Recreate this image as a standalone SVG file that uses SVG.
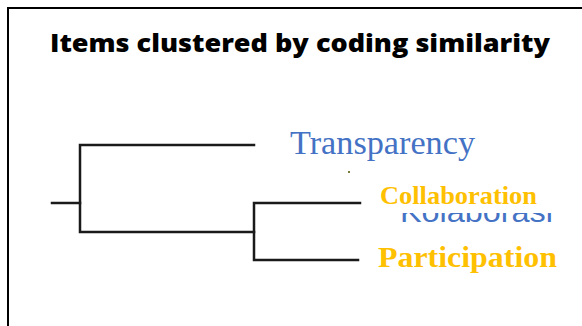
<svg xmlns="http://www.w3.org/2000/svg" width="582" height="326" viewBox="0 0 582 326">
  <defs>
    <style>
      .frame{stroke:#000;stroke-width:2;fill:none}
      .branch{stroke:#1a1a1a;stroke-width:2.5;fill:none;stroke-linecap:square}
      .title{font-family:"Open Sans","DejaVu Sans",sans-serif;font-weight:800;font-size:24px;fill:#000}
      .blue{font-family:"Liberation Serif","Times New Roman",serif;fill:#4472C4}
      .gold{font-family:"Liberation Serif","Times New Roman",serif;font-weight:bold;fill:#FFC000}
    </style>
    <clipPath id="hiddenClip"><rect x="390" y="213" width="180" height="11"/></clipPath>
  </defs>
  <rect x="0" y="0" width="582" height="326" fill="#fff"/>
  <path class="frame" d="M8,326 V8 H582"/>
  <text class="title" x="50" y="52" textLength="500" lengthAdjust="spacingAndGlyphs">Items clustered by coding similarity</text>
  <g id="connectors">
    <path class="branch" d="M52,203 H80"/>
    <path class="branch" d="M254,145 H80 V232 H254"/>
    <path class="branch" d="M360,203 H254 V260 H358"/>
  </g>
  <rect x="348" y="171" width="2" height="2" fill="#7a7a3a"/>
  <g id="hidden-label">
    <text x="400" y="222" clip-path="url(#hiddenClip)" font-family="Liberation Sans, Arial, sans-serif" font-size="30" fill="#4472C4" textLength="153" lengthAdjust="spacingAndGlyphs">Kolaborasi</text>
  </g>
  <g id="node-transparency">
    <text class="blue" x="290" y="154" font-size="34" textLength="185" lengthAdjust="spacingAndGlyphs">Transparency</text>
  </g>
  <g id="node-collaboration">
    <text class="gold" x="380" y="204" font-size="26" textLength="157" lengthAdjust="spacingAndGlyphs">Collaboration</text>
  </g>
  <g id="node-participation">
    <text class="gold" x="378" y="267" font-size="30" textLength="179" lengthAdjust="spacingAndGlyphs">Participation</text>
  </g>
</svg>
